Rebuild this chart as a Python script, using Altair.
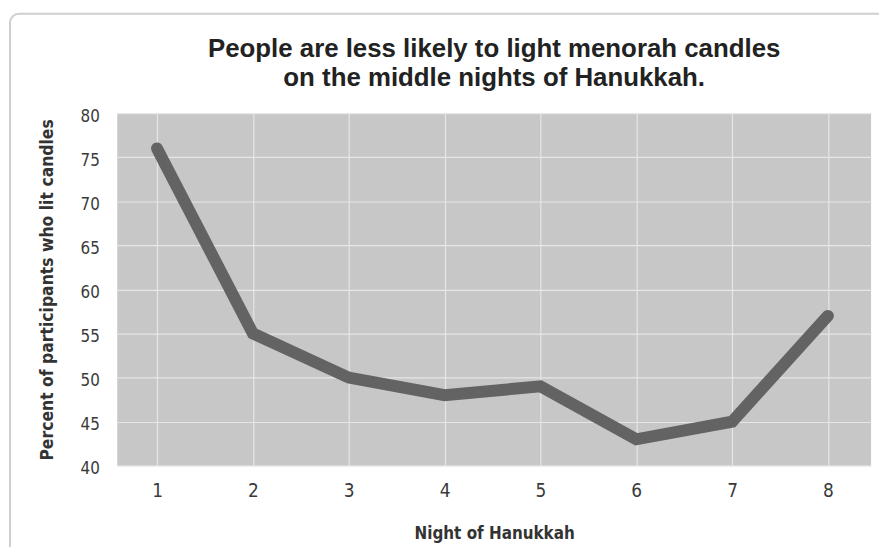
import altair as alt
import pandas as pd

nights = [1, 2, 3, 4, 5, 6, 7, 8]
percent = [76, 55, 50, 48, 49, 43, 45, 57]
x_ticks = [1, 2, 3, 4, 5, 6, 7, 8]
y_ticks = [40, 45, 50, 55, 60, 65, 70, 75, 80]
title_lines = ["People are less likely to light menorah candles", "on the middle nights of Hanukkah."]

df = pd.DataFrame({"night": nights, "percent": percent})

W, H = 759, 355
COND = "DejaVu Sans Condensed, Liberation Sans Narrow, Arial Narrow, Liberation Sans, sans-serif"

card = alt.Chart(pd.DataFrame({"a": [0]})).mark_rect(
    fill="transparent", stroke="#cfcfcf", strokeWidth=2, cornerRadius=9
).encode(
    x=alt.value(-108), x2=alt.value(W + 40), y=alt.value(-100), y2=alt.value(H + 120)
)

title = alt.Chart(pd.DataFrame({"a": [0]})).mark_text(
    text=title_lines, font="Liberation Sans", fontSize=26, fontWeight="bold",
    color="#222222", align="center", baseline="alphabetic", lineHeight=30,
).encode(x=alt.value(W / 2), y=alt.value(-57))

line = alt.Chart(df).mark_line(
    color="#636363", strokeWidth=12, strokeCap="round", strokeJoin="miter"
).encode(
    x=alt.X(
        "night:Q",
        scale=alt.Scale(domain=[0.585, 8.45], nice=False, zero=False),
        axis=alt.Axis(
            values=x_ticks, title="Night of Hanukkah", grid=True, ticks=False, tickSize=0,
            domain=False, labelFlush=False, labelPadding=16, labelFontSize=19,
            labelFont=COND, labelColor="#3a3a3a",
            titleFont=COND, titleFontSize=17, titleFontWeight="bold",
            titleColor="#333333", titlePadding=25,
            gridColor="#e6e6e6", gridWidth=1.2,
        ),
    ),
    y=alt.Y(
        "percent:Q",
        scale=alt.Scale(domain=[40, 80], nice=False, zero=False),
        axis=alt.Axis(
            values=y_ticks, title="Percent of participants who lit candles", grid=True,
            ticks=False, tickSize=0, domain=False, labelPadding=18, labelFontSize=17,
            labelOffset=3, labelFont=COND, labelColor="#3a3a3a",
            titleFont=COND, titleFontSize=17.5, titleFontWeight="bold",
            titleColor="#333333", titlePadding=24,
            gridColor="#e6e6e6", gridWidth=1.2,
        ),
    ),
)

chart = alt.layer(card, title, line).properties(
    width=W,
    height=H,
    padding={"left": 110, "top": 104, "right": 8, "bottom": 80},
    autosize=alt.AutoSizeParams(type="none"),
).configure(
    background="white"
).configure_view(
    fill="#c7c7c7", stroke=None
)

chart.save("out.html", embed_options={"renderer": "svg", "actions": False})
